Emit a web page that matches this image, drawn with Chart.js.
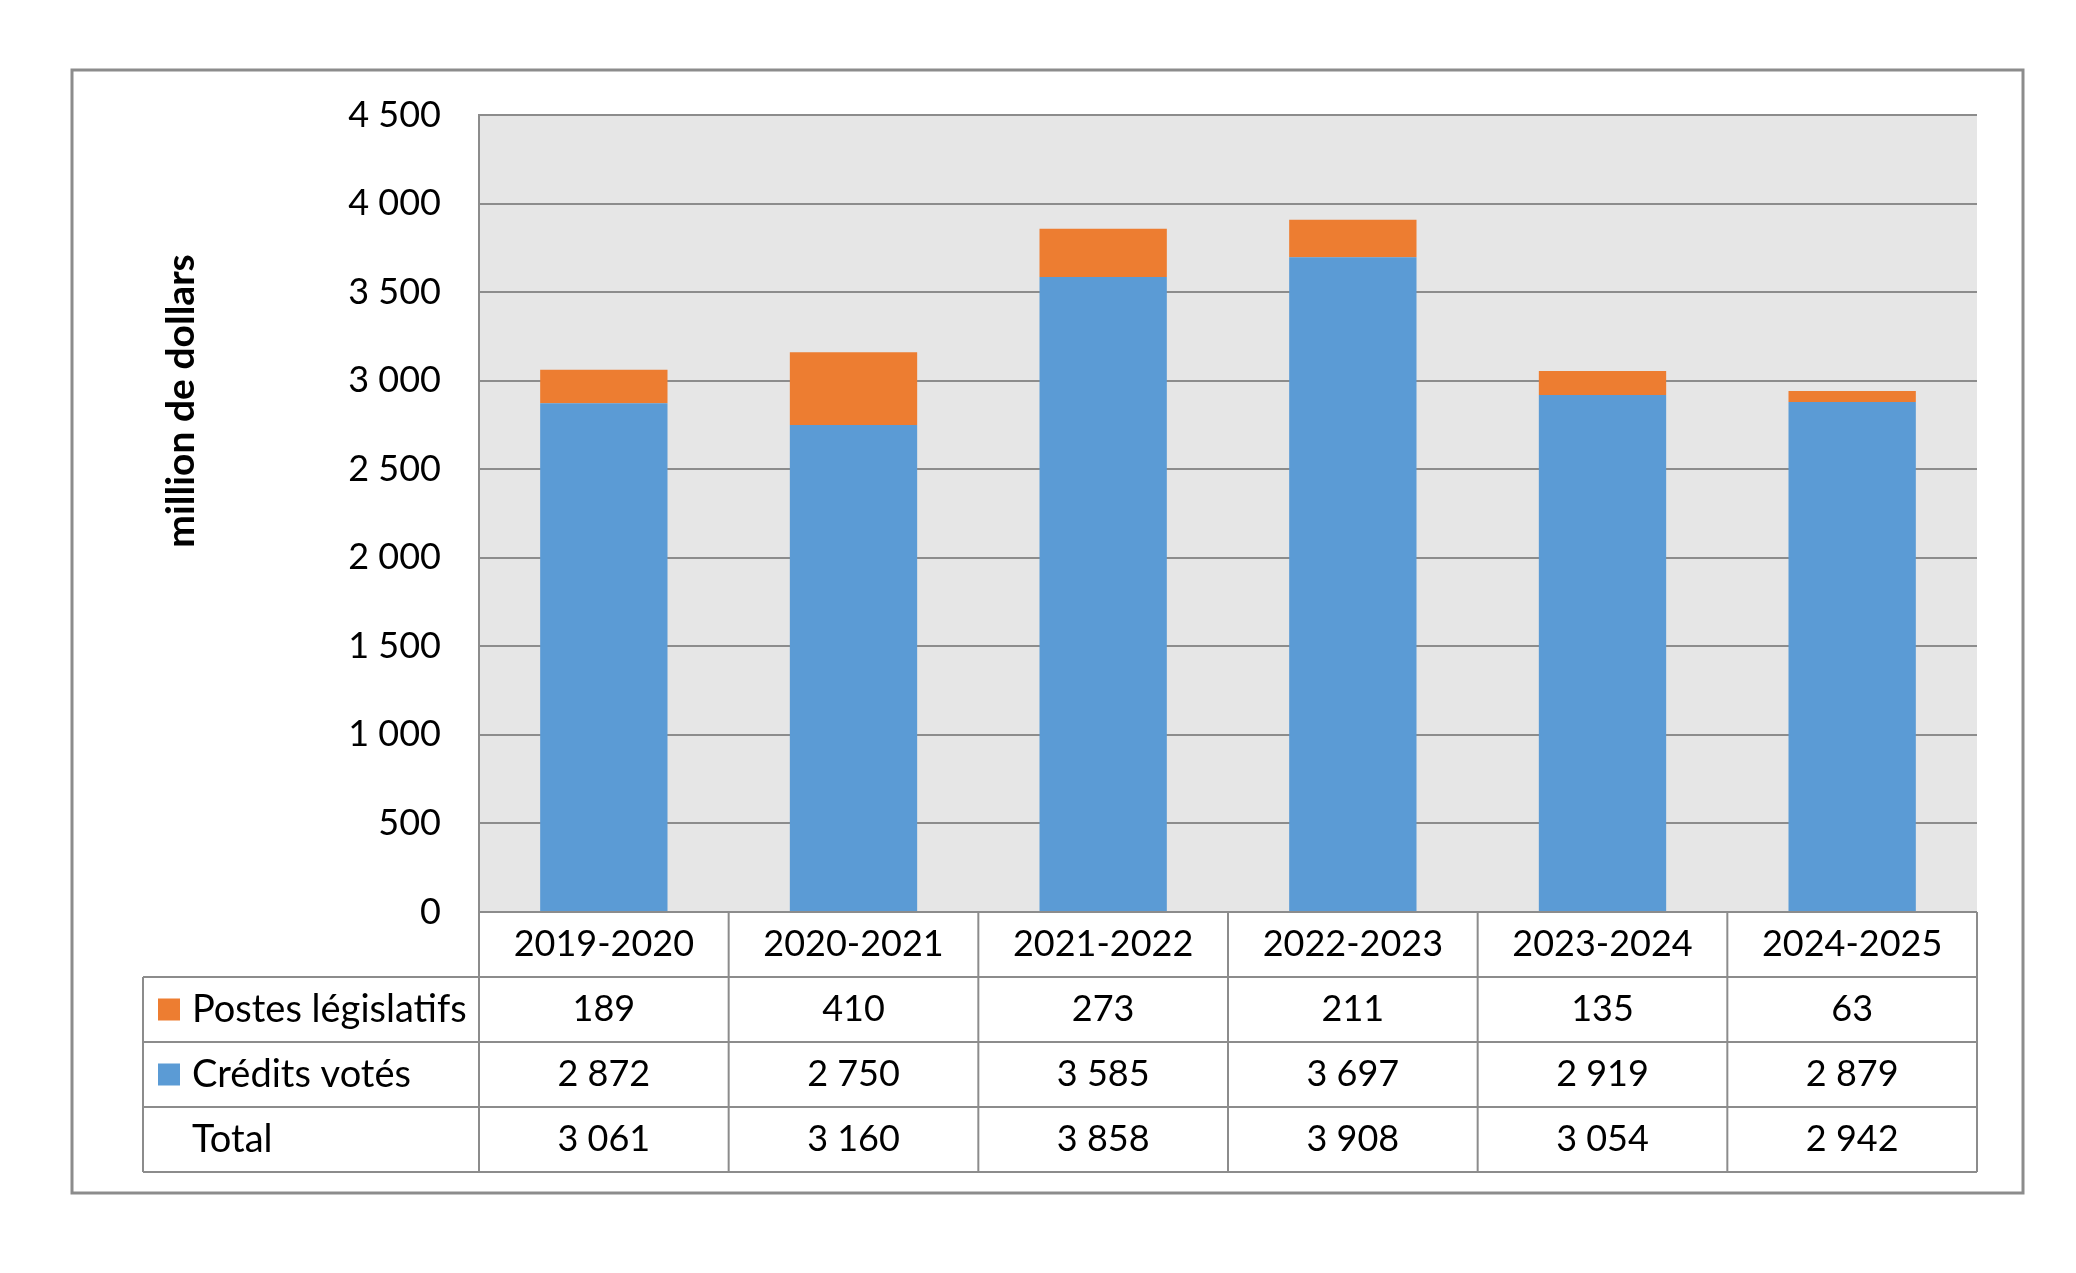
<!DOCTYPE html>
<html>
<head>
<meta charset="utf-8">
<script src="https://cdn.jsdelivr.net/npm/chart.js@4/dist/chart.umd.min.js"></script>
<style>
  html, body { margin: 0; padding: 0; background: #fff; }
  #wrap { width: 2076px; height: 1273px; position: relative; }
</style>
</head>
<body>
<div id="wrap"><canvas id="chart"></canvas></div>
<script>
const years = ['2019-2020', '2020-2021', '2021-2022', '2022-2023', '2023-2024', '2024-2025'];
const postesLegislatifs = [189, 410, 273, 211, 135, 63];
const creditsVotes = [2872, 2750, 3585, 3697, 2919, 2879];
const totals = [3061, 3160, 3858, 3908, 3054, 2942];
const yTicks = [0, 500, 1000, 1500, 2000, 2500, 3000, 3500, 4000, 4500];

const BLUE = '#5B9BD5';
const ORANGE = '#ED7D31';
const LINE = '#8c8c8c';
const FONT = 'Lato, "Liberation Sans", sans-serif';

const fmt = v => String(v).replace(/\B(?=(\d{3})+(?!\d))/g, ' ');

// table + frame under the plot, drawn by hand
const tablePlugin = {
  id: 'dataTable',
  beforeDraw(chart) {
    const { ctx, chartArea: a } = chart;
    ctx.save();
    ctx.fillStyle = '#e6e6e6';
    ctx.fillRect(a.left, a.top, a.right - a.left, a.bottom - a.top);
    ctx.restore();
  },
  afterDraw(chart) {
    const { ctx, chartArea: a } = chart;
    const xs = chart.scales.x;
    const rowH = 65;
    const tableLeft = 143;
    const n = years.length;
    const colW = (a.right - a.left) / n;
    const rows = [a.bottom, a.bottom + rowH, a.bottom + rowH * 2, a.bottom + rowH * 3, a.bottom + rowH * 4];

    ctx.save();
    ctx.strokeStyle = LINE;
    ctx.lineWidth = 2;
    ctx.beginPath();
    ctx.moveTo(a.left, rows[0]); ctx.lineTo(a.right, rows[0]);
    for (let r = 1; r < rows.length; r++) {
      ctx.moveTo(tableLeft, rows[r]); ctx.lineTo(a.right, rows[r]);
    }
    ctx.moveTo(tableLeft, rows[1]); ctx.lineTo(tableLeft, rows[4]);
    for (let i = 0; i <= n; i++) {
      const x = a.left + i * colW;
      ctx.moveTo(x, rows[0]); ctx.lineTo(x, rows[4]);
    }
    ctx.stroke();

    ctx.fillStyle = '#000';
    ctx.font = '36px ' + FONT;
    ctx.textBaseline = 'middle';
    ctx.textAlign = 'center';
    for (let i = 0; i < n; i++) {
      const cx = xs.getPixelForValue(i);
      ctx.fillText(years[i], cx, rows[0] + rowH / 2);
      ctx.fillText(fmt(postesLegislatifs[i]), cx, rows[1] + rowH / 2);
      ctx.fillText(fmt(creditsVotes[i]), cx, rows[2] + rowH / 2);
      ctx.fillText(fmt(totals[i]), cx, rows[3] + rowH / 2);
    }

    // legend keys in the first column
    const labels = [['Postes législatifs', ORANGE], ['Crédits votés', BLUE], ['Total', null]];
    ctx.textAlign = 'left';
    ctx.font = '38px ' + FONT;
    labels.forEach(([txt, col], k) => {
      const cy = rows[k + 1] + rowH / 2;
      if (col) {
        ctx.fillStyle = col;
        ctx.fillRect(158, cy - 11, 22, 22);
      }
      ctx.fillStyle = '#000';
      ctx.fillText(txt, 192, cy);
    });

    // axis title
    ctx.save();
    ctx.translate(181, 401);
    ctx.rotate(-Math.PI / 2);
    ctx.textAlign = 'center';
    ctx.font = 'bold 39px ' + FONT;
    ctx.fillText('million de dollars', 0, 0);
    ctx.restore();

    // outer frame
    ctx.strokeStyle = LINE;
    ctx.lineWidth = 3;
    ctx.strokeRect(72, 70, 2023 - 72, 1193 - 70);
    ctx.restore();
  }
};

new Chart(document.getElementById('chart'), {
  type: 'bar',
  data: {
    labels: years,
    datasets: [
      { label: 'Crédits votés', data: creditsVotes, backgroundColor: BLUE },
      { label: 'Postes législatifs', data: postesLegislatifs, backgroundColor: ORANGE }
    ]
  },
  options: {
    responsive: true,
    maintainAspectRatio: false,
    animation: false,
    devicePixelRatio: 1,
    layout: { padding: { left: 0, top: 115, right: 99, bottom: 361 } },
    datasets: { bar: { categoryPercentage: 1, barPercentage: 0.51 } },
    plugins: { legend: { display: false }, tooltip: { enabled: false } },
    scales: {
      x: { stacked: true, display: false },
      y: {
        stacked: true,
        min: 0,
        max: 4500,
        afterBuildTicks: s => { s.ticks = yTicks.map(v => ({ value: v })); },
        afterFit: s => { s.width = 479; },
        grid: { color: LINE, lineWidth: 2, drawTicks: false },
        border: { display: true, color: LINE, width: 2 },
        ticks: {
          padding: 38,
          color: '#000',
          font: { size: 36, family: FONT },
          callback: v => fmt(v)
        }
      }
    }
  },
  plugins: [tablePlugin]
});
</script>
</body>
</html>
